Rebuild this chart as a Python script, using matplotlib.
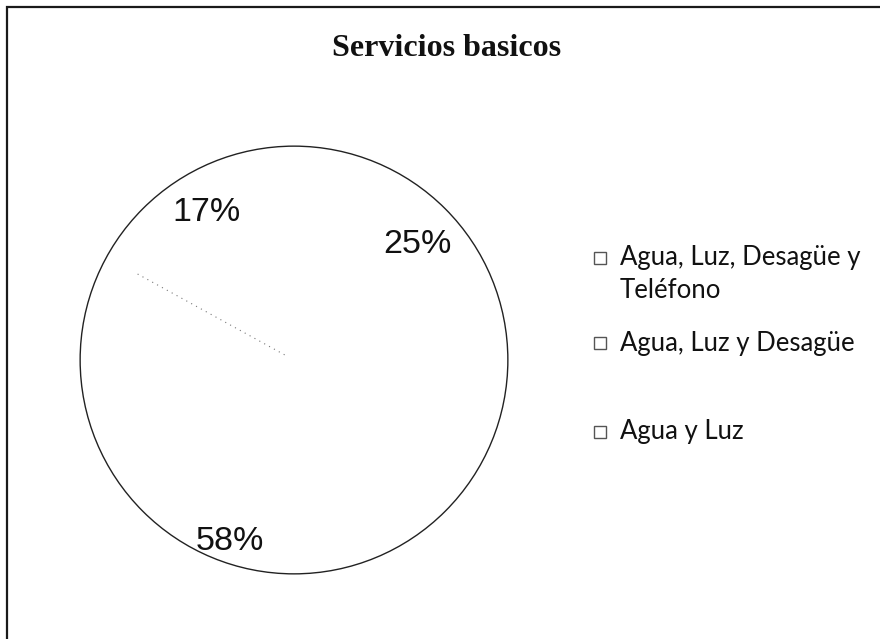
import numpy as np
import matplotlib
matplotlib.use("Agg")
import matplotlib.pyplot as plt
from matplotlib.patches import Circle, Rectangle

title = "Servicios basicos"
categories = ["Agua, Luz, Desagüe y\nTeléfono", "Agua, Luz y Desagüe", "Agua y Luz"]
values = [25, 58, 17]

W, H = 880, 639
fig = plt.figure(figsize=(W / 100, H / 100), dpi=100)
fig.patch.set_facecolor("white")

# outer frame (right/bottom edges run off the image)
fig.add_artist(Rectangle((7 / W, -0.05), 1.2, 1 - 7 / H + 0.05, transform=fig.transFigure,
                         fill=False, ec="#1a1a1a", lw=1.6))

fig.text(447 / W, 1 - 49 / H, title, ha="center", va="center",
         family="Liberation Serif", fontweight="bold", fontsize=23, color="#111111")

cx, cy, r = 294, 360, 216
ax = fig.add_axes([(cx - r) / W, (H - cy - r) / H, 2 * r / W, 2 * r / H])
wedges, texts, autotexts = ax.pie(values, startangle=90, counterclock=False,
                                  colors=["white"] * 3, autopct="%1.0f%%",
                                  wedgeprops=dict(edgecolor="none", linewidth=0),
                                  textprops=dict(family="Liberation Sans", fontsize=24.5, color="#111111"))
ax.add_patch(Circle((0, 0), 1, fill=False, ec="#222222", lw=1.0))

# faint dotted boundary between the last two slices
th = np.deg2rad(wedges[1].theta1)
ax.plot([0.05 * np.cos(th), 0.85 * np.cos(th)], [0.05 * np.sin(th), 0.85 * np.sin(th)],
        ls=(0, (1, 4)), color="#777777", lw=0.8)

dists = [0.79, 0.90, 0.80]
angle_shift = [-2, -5, 0]
for w, t, d, s in zip(wedges, autotexts, dists, angle_shift):
    mid = np.deg2rad((w.theta1 + w.theta2) / 2 + s)
    t.set_position((d * np.cos(mid), d * np.sin(mid)))
ax.set_xlim(-1.01, 1.01)
ax.set_ylim(-1.01, 1.01)
ax.set_aspect("equal")
ax.axis("off")

# legend
ys = [274, 343, 432]
for lab, y in zip(categories, ys):
    first_line_y = y - (16 if "\n" in lab else 0)
    fig.add_artist(Rectangle((594 / W, 1 - (first_line_y + 6) / H), 12 / W, 12 / H,
                             transform=fig.transFigure, fill=True, fc="white",
                             ec="#555555", lw=1.0))
    fig.text(620 / W, 1 - y / H, lab, ha="left", va="center", family="Lato",
             fontsize=18.5, color="#111111", linespacing=1.4)

fig.savefig("out.png", dpi=100, facecolor="white")
